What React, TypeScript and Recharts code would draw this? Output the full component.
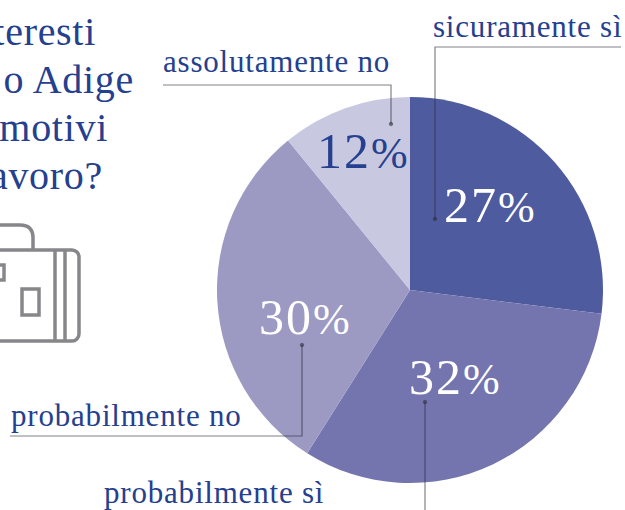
import { PieChart, Pie, Cell } from 'recharts'

const answers = ['sicuramente sì', 'probabilmente sì', 'probabilmente no', 'assolutamente no']
const shares = [27, 32, 30.2, 10.9]
const percentLabels = ['27', '32', '30', '12']
const titleLines = ['teresti', 'o Adige', 'motivi', 'avoro?']

const COLORS = ['#4e5b9e', '#7475ae', '#9c9ac3', '#c8c8e0']
const TEXT_BLUE = '#24408e'
const LINE = 'rgba(45,45,60,0.6)'
const ICON = '#87878b'

const pieData = answers.map((name, i) => ({ name, value: shares[i] }))

function Percent({ x, y, value, fill }: { x: number; y: number; value: string; fill: string }) {
  return (
    <text x={x} y={y} fill={fill} fontSize={50}>
      <tspan letterSpacing={2}>{value}</tspan>
      <tspan fontSize={44}>%</tspan>
    </text>
  )
}

function Leader({ d, dot }: { d: string; dot: [number, number] }) {
  return (
    <g>
      <path d={d} fill="none" stroke={LINE} strokeWidth={1.2} />
      <circle cx={dot[0]} cy={dot[1]} r={1.8} fill={LINE} stroke={LINE} strokeWidth={0.6} />
    </g>
  )
}

export default function App() {
  return (
    <div style={{ position: 'absolute', left: 0, top: 0, width: 625, height: 510, overflow: 'hidden', background: '#fff' }}>
      <div style={{ position: 'absolute', left: 0, top: 0 }}>
        <PieChart width={625} height={510} margin={{ top: 0, right: 0, bottom: 0, left: 0 }}>
          <Pie
            data={pieData}
            dataKey="value"
            cx={410}
            cy={290}
            outerRadius={193}
            startAngle={90}
            endAngle={-270}
            stroke="none"
            isAnimationActive={false}
          >
            {pieData.map((entry, index) => (
              <Cell key={`cell-${index}`} fill={COLORS[index]} />
            ))}
          </Pie>
        </PieChart>
      </div>
      <svg
        width={625}
        height={510}
        style={{ position: 'absolute', left: 0, top: 0, fontFamily: '"Liberation Serif", serif' }}
      >
        <g fill={TEXT_BLUE} fontSize={40} letterSpacing={0.7} textAnchor="end">
          <text x={96} y={45}>{titleLines[0]}</text>
          <text x={134} y={93}>{titleLines[1]}</text>
          <text x={108} y={141}>{titleLines[2]}</text>
          <text x={103} y={189}>{titleLines[3]}</text>
        </g>

        <g fill="none" stroke={ICON} strokeWidth={3.5}>
          <rect x={-30} y={250} width={109} height={91} rx={7} />
          <line x1={55} y1={250} x2={55} y2={341} />
          <line x1={65} y1={250} x2={65} y2={341} />
          <path d="M33 250 V238 Q33 225 20 225 H-10" />
          <rect x={22} y={289} width={17} height={26} />
          <rect x={-10} y={265} width={14} height={15} />
        </g>

        <Leader d="M621 47 H435 V219" dot={[435, 219]} />
        <Leader d="M163 85 H391 V124" dot={[391, 124]} />
        <Leader d="M10 436 H302 V345" dot={[302, 345]} />
        <Leader d="M425 510 V402" dot={[425, 402]} />

        <g fill={TEXT_BLUE} fontSize={31} letterSpacing={0.8}>
          <text x={433} y={37}>{answers[0]}</text>
          <text x={104} y={503}>{answers[1]}</text>
          <text x={11} y={426}>{answers[2]}</text>
          <text x={163} y={72}>{answers[3]}</text>
        </g>

        <Percent x={444} y={222} value={percentLabels[0]} fill="#fff" />
        <Percent x={409} y={394} value={percentLabels[1]} fill="#fff" />
        <Percent x={259} y={334} value={percentLabels[2]} fill="#fff" />
        <Percent x={317} y={168} value={percentLabels[3]} fill={TEXT_BLUE} />
      </svg>
    </div>
  )
}
